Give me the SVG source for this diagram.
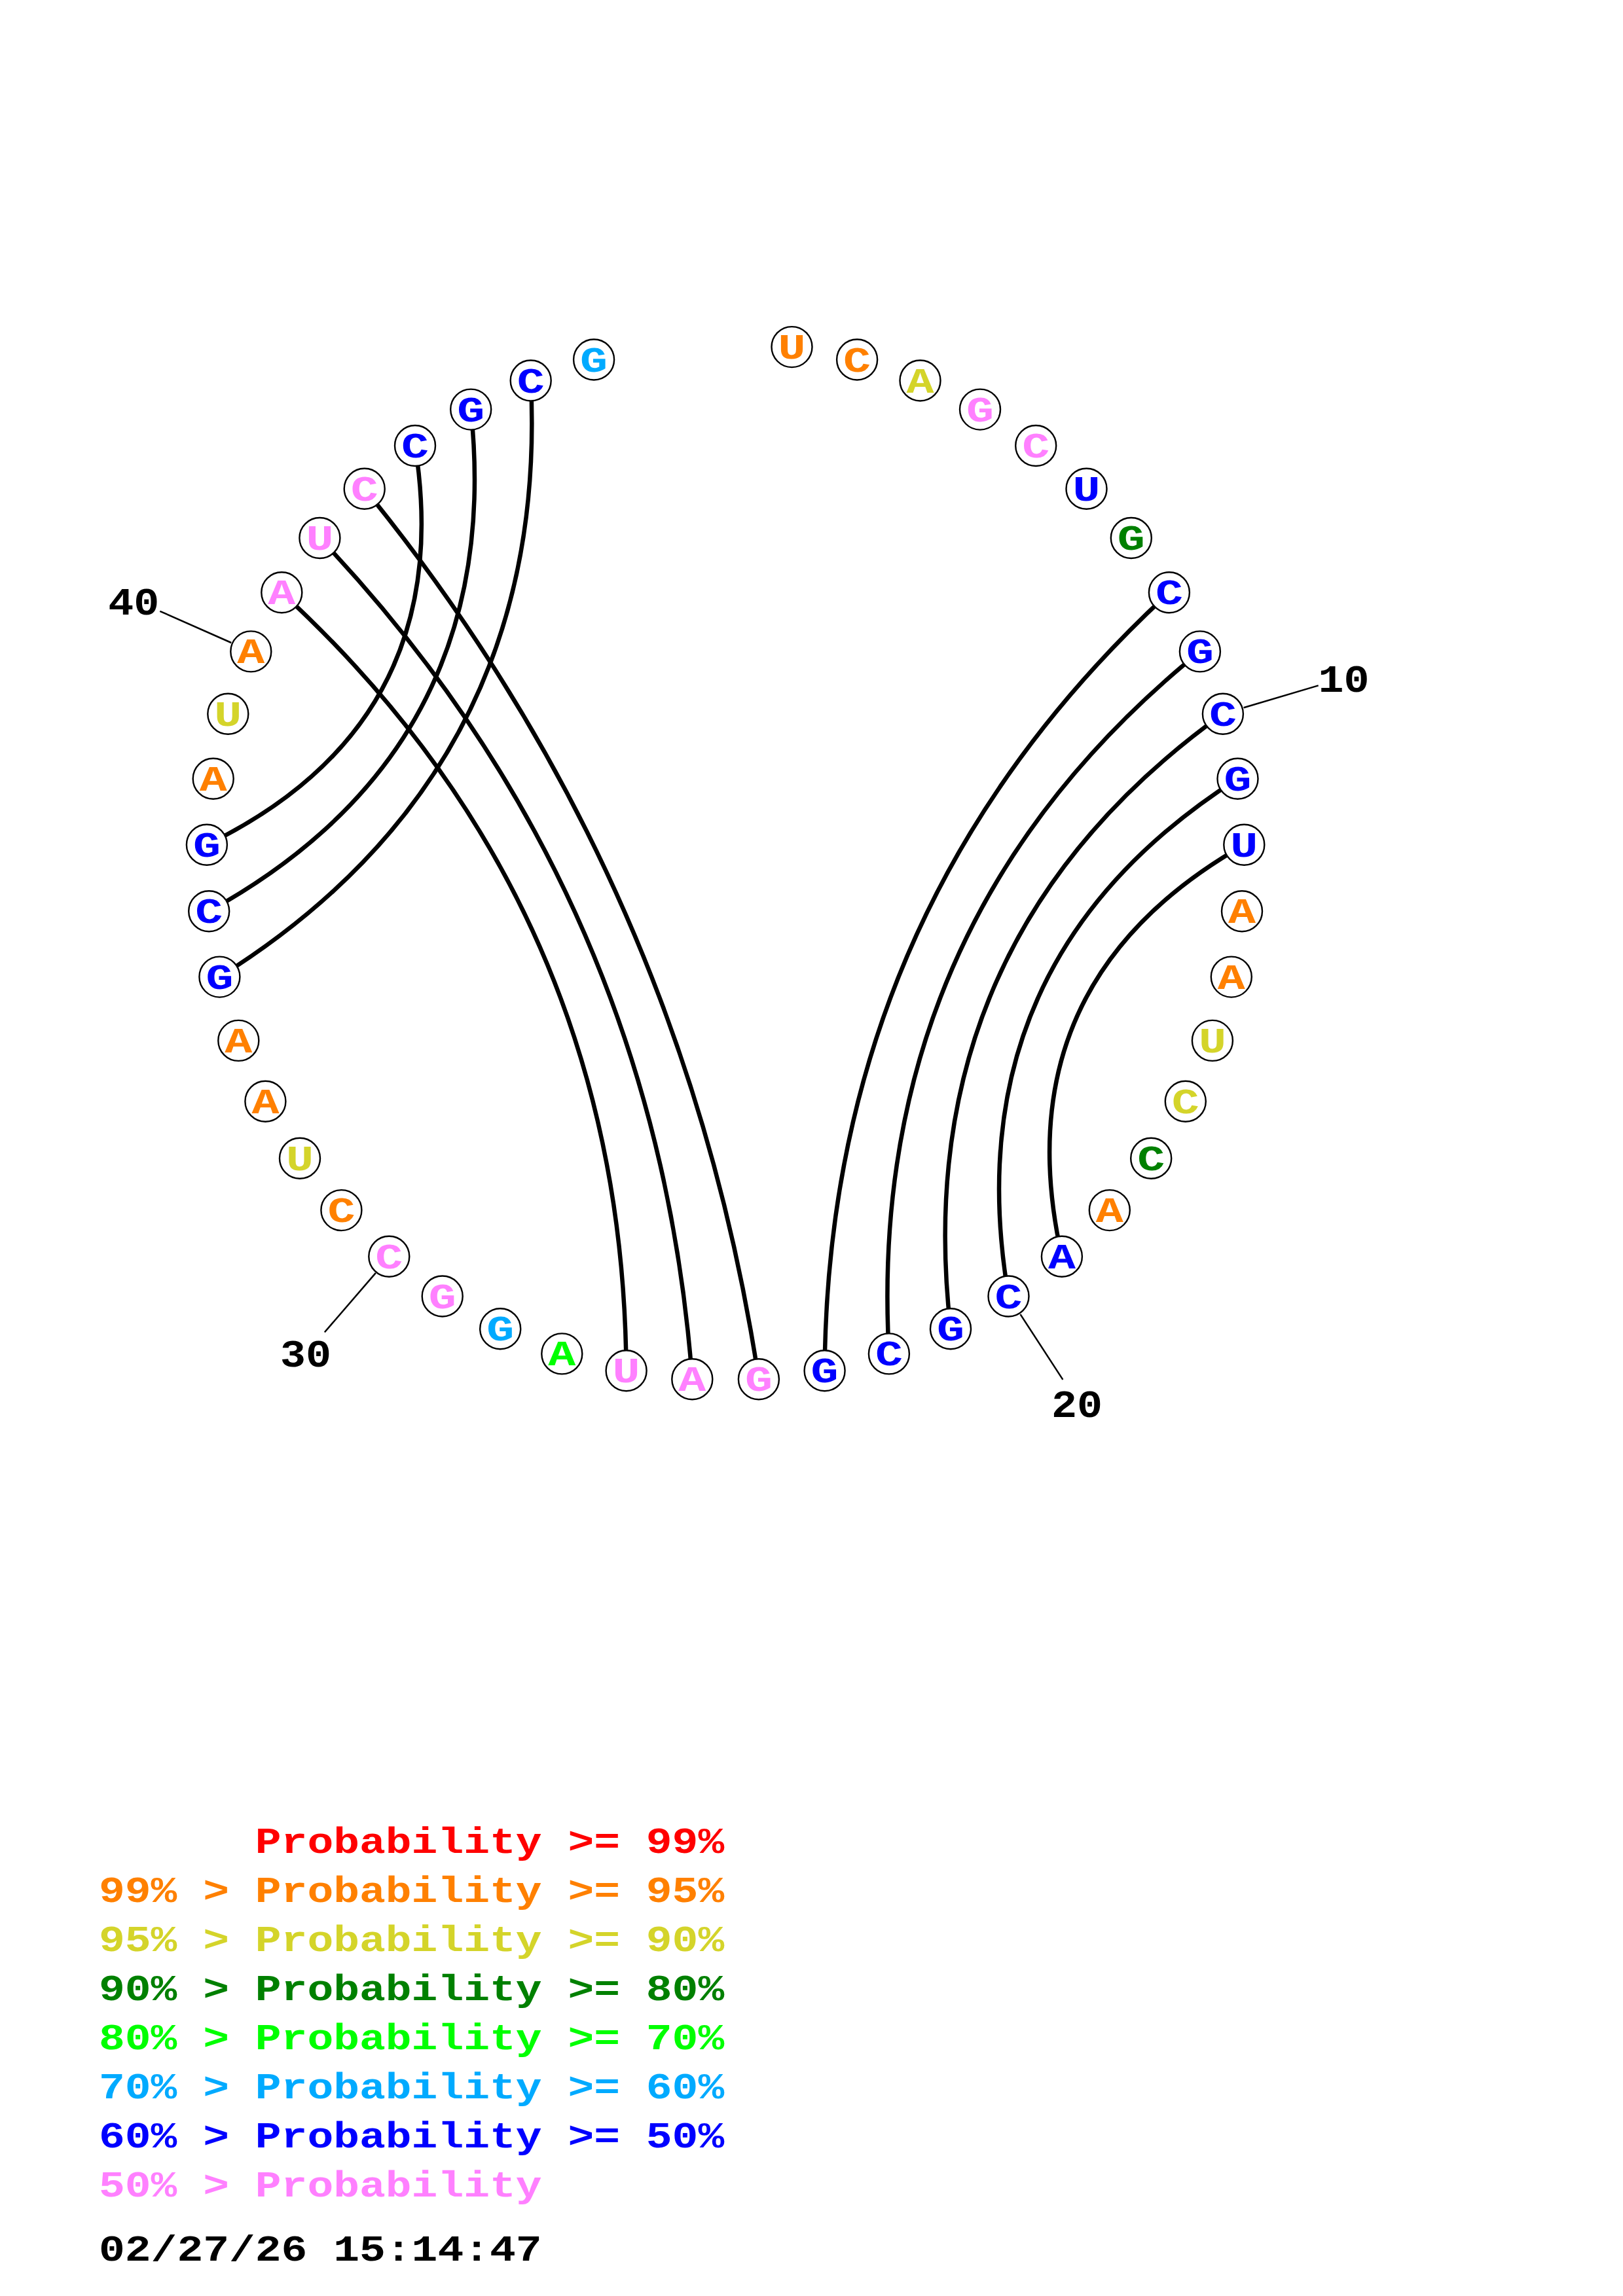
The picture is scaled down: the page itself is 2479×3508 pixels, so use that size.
<svg xmlns="http://www.w3.org/2000/svg" width="2479" height="3508" viewBox="0 0 2479 3508">
<style>
.bg{fill:#fff}
.nc{fill:#fff;stroke:#000;stroke-width:2.4}
.nt{font-family:"Liberation Mono","DejaVu Sans Mono",monospace;font-weight:bold;font-size:53px;text-anchor:middle}
.arc{fill:none;stroke:#000;stroke-width:6.5;stroke-linecap:round}
.tick{stroke:#000;stroke-width:2.5}
.lbl{font-family:"Liberation Mono","DejaVu Sans Mono",monospace;font-weight:bold;font-size:60px;text-anchor:middle;fill:#000}
.leg{font-family:"Liberation Mono","DejaVu Sans Mono",monospace;font-weight:bold;font-size:55px}
.or{fill:#FF8000}.ye{fill:#D4D42A}.pk{fill:#FF80FF}.bl{fill:#0000FF}.dg{fill:#008000}.gr{fill:#00FF00}.lb{fill:#00AAFF}.rd{fill:#FF0000}.bk{fill:#000}
</style>
<rect class="bg" x="0" y="0" width="2479" height="3508"/>
<g id="connectors">
<path class="arc" d="M1785.9,905.3 Q1264.3,1385.3 1259.6,2094.2"/>
<path class="arc" d="M1832.9,995.4 Q1321.0,1410.4 1357.9,2068.4"/>
<path class="arc" d="M1867.9,1090.7 Q1384.1,1438.4 1452.0,2030.3"/>
<path class="arc" d="M1890.5,1189.7 Q1453.3,1469.0 1540.5,1980.5"/>
<path class="arc" d="M1900.3,1290.8 Q1528.3,1502.2 1621.9,1919.7"/>
<path class="arc" d="M1158.9,2107.2 Q1043.6,1344.7 556.7,746.8"/>
<path class="arc" d="M1057.3,2107.2 Q1001.7,1363.3 488.4,822.0"/>
<path class="arc" d="M956.6,2094.2 Q951.9,1385.3 430.3,905.3"/>
<path class="arc" d="M335.4,1492.6 Q840.5,1176.6 810.7,581.5"/>
<path class="arc" d="M319.2,1392.3 Q773.4,1141.6 719.2,625.6"/>
<path class="arc" d="M315.9,1290.8 Q700.7,1103.7 634.0,681.0"/>
<line class="tick" x1="1899.6" y1="1081.3" x2="2013.7" y2="1047.4"/>
<line class="tick" x1="1558.5" y1="2008.1" x2="1623.4" y2="2107.9"/>
<line class="tick" x1="573.9" y1="1944.9" x2="495.8" y2="2035.5"/>
<line class="tick" x1="353.2" y1="982.0" x2="244.3" y2="933.8"/>
</g>
<g id="n1"><circle class="nc" cx="1209.5" cy="530.1" r="31"/><text class="nt or" x="1209.5" y="548.1" textLength="42" lengthAdjust="spacingAndGlyphs">U</text></g>
<g id="n2"><circle class="nc" cx="1309.1" cy="549.5" r="31"/><text class="nt or" x="1309.1" y="567.5" textLength="42" lengthAdjust="spacingAndGlyphs">C</text></g>
<g id="n3"><circle class="nc" cx="1405.5" cy="581.5" r="31"/><text class="nt ye" x="1405.5" y="599.5" textLength="42" lengthAdjust="spacingAndGlyphs">A</text></g>
<g id="n4"><circle class="nc" cx="1497.0" cy="625.6" r="31"/><text class="nt pk" x="1497.0" y="643.6" textLength="42" lengthAdjust="spacingAndGlyphs">G</text></g>
<g id="n5"><circle class="nc" cx="1582.2" cy="681.0" r="31"/><text class="nt pk" x="1582.2" y="699.0" textLength="42" lengthAdjust="spacingAndGlyphs">C</text></g>
<g id="n6"><circle class="nc" cx="1659.5" cy="746.8" r="31"/><text class="nt bl" x="1659.5" y="764.8" textLength="42" lengthAdjust="spacingAndGlyphs">U</text></g>
<g id="n7"><circle class="nc" cx="1727.8" cy="822.0" r="31"/><text class="nt dg" x="1727.8" y="840.0" textLength="42" lengthAdjust="spacingAndGlyphs">G</text></g>
<g id="n8"><circle class="nc" cx="1785.9" cy="905.3" r="31"/><text class="nt bl" x="1785.9" y="923.3" textLength="42" lengthAdjust="spacingAndGlyphs">C</text></g>
<g id="n9"><circle class="nc" cx="1832.9" cy="995.4" r="31"/><text class="nt bl" x="1832.9" y="1013.4" textLength="42" lengthAdjust="spacingAndGlyphs">G</text></g>
<g id="n10"><circle class="nc" cx="1867.9" cy="1090.7" r="31"/><text class="nt bl" x="1867.9" y="1108.7" textLength="42" lengthAdjust="spacingAndGlyphs">C</text></g>
<g id="n11"><circle class="nc" cx="1890.5" cy="1189.7" r="31"/><text class="nt bl" x="1890.5" y="1207.7" textLength="42" lengthAdjust="spacingAndGlyphs">G</text></g>
<g id="n12"><circle class="nc" cx="1900.3" cy="1290.8" r="31"/><text class="nt bl" x="1900.3" y="1308.8" textLength="42" lengthAdjust="spacingAndGlyphs">U</text></g>
<g id="n13"><circle class="nc" cx="1897.0" cy="1392.3" r="31"/><text class="nt or" x="1897.0" y="1410.3" textLength="42" lengthAdjust="spacingAndGlyphs">A</text></g>
<g id="n14"><circle class="nc" cx="1880.8" cy="1492.6" r="31"/><text class="nt or" x="1880.8" y="1510.6" textLength="42" lengthAdjust="spacingAndGlyphs">A</text></g>
<g id="n15"><circle class="nc" cx="1851.9" cy="1589.9" r="31"/><text class="nt ye" x="1851.9" y="1607.9" textLength="42" lengthAdjust="spacingAndGlyphs">U</text></g>
<g id="n16"><circle class="nc" cx="1810.8" cy="1682.8" r="31"/><text class="nt ye" x="1810.8" y="1700.8" textLength="42" lengthAdjust="spacingAndGlyphs">C</text></g>
<g id="n17"><circle class="nc" cx="1758.2" cy="1769.7" r="31"/><text class="nt dg" x="1758.2" y="1787.7" textLength="42" lengthAdjust="spacingAndGlyphs">C</text></g>
<g id="n18"><circle class="nc" cx="1694.8" cy="1849.1" r="31"/><text class="nt or" x="1694.8" y="1867.1" textLength="42" lengthAdjust="spacingAndGlyphs">A</text></g>
<g id="n19"><circle class="nc" cx="1621.9" cy="1919.7" r="31"/><text class="nt bl" x="1621.9" y="1937.7" textLength="42" lengthAdjust="spacingAndGlyphs">A</text></g>
<g id="n20"><circle class="nc" cx="1540.5" cy="1980.5" r="31"/><text class="nt bl" x="1540.5" y="1998.5" textLength="42" lengthAdjust="spacingAndGlyphs">C</text></g>
<g id="n21"><circle class="nc" cx="1452.0" cy="2030.3" r="31"/><text class="nt bl" x="1452.0" y="2048.3" textLength="42" lengthAdjust="spacingAndGlyphs">G</text></g>
<g id="n22"><circle class="nc" cx="1357.9" cy="2068.4" r="31"/><text class="nt bl" x="1357.9" y="2086.4" textLength="42" lengthAdjust="spacingAndGlyphs">C</text></g>
<g id="n23"><circle class="nc" cx="1259.6" cy="2094.2" r="31"/><text class="nt bl" x="1259.6" y="2112.2" textLength="42" lengthAdjust="spacingAndGlyphs">G</text></g>
<g id="n24"><circle class="nc" cx="1158.9" cy="2107.2" r="31"/><text class="nt pk" x="1158.9" y="2125.2" textLength="42" lengthAdjust="spacingAndGlyphs">G</text></g>
<g id="n25"><circle class="nc" cx="1057.3" cy="2107.2" r="31"/><text class="nt pk" x="1057.3" y="2125.2" textLength="42" lengthAdjust="spacingAndGlyphs">A</text></g>
<g id="n26"><circle class="nc" cx="956.6" cy="2094.2" r="31"/><text class="nt pk" x="956.6" y="2112.2" textLength="42" lengthAdjust="spacingAndGlyphs">U</text></g>
<g id="n27"><circle class="nc" cx="858.3" cy="2068.4" r="31"/><text class="nt gr" x="858.3" y="2086.4" textLength="42" lengthAdjust="spacingAndGlyphs">A</text></g>
<g id="n28"><circle class="nc" cx="764.2" cy="2030.3" r="31"/><text class="nt lb" x="764.2" y="2048.3" textLength="42" lengthAdjust="spacingAndGlyphs">G</text></g>
<g id="n29"><circle class="nc" cx="675.7" cy="1980.5" r="31"/><text class="nt pk" x="675.7" y="1998.5" textLength="42" lengthAdjust="spacingAndGlyphs">G</text></g>
<g id="n30"><circle class="nc" cx="594.3" cy="1919.7" r="31"/><text class="nt pk" x="594.3" y="1937.7" textLength="42" lengthAdjust="spacingAndGlyphs">C</text></g>
<g id="n31"><circle class="nc" cx="521.4" cy="1849.1" r="31"/><text class="nt or" x="521.4" y="1867.1" textLength="42" lengthAdjust="spacingAndGlyphs">C</text></g>
<g id="n32"><circle class="nc" cx="458.0" cy="1769.7" r="31"/><text class="nt ye" x="458.0" y="1787.7" textLength="42" lengthAdjust="spacingAndGlyphs">U</text></g>
<g id="n33"><circle class="nc" cx="405.4" cy="1682.8" r="31"/><text class="nt or" x="405.4" y="1700.8" textLength="42" lengthAdjust="spacingAndGlyphs">A</text></g>
<g id="n34"><circle class="nc" cx="364.3" cy="1589.9" r="31"/><text class="nt or" x="364.3" y="1607.9" textLength="42" lengthAdjust="spacingAndGlyphs">A</text></g>
<g id="n35"><circle class="nc" cx="335.4" cy="1492.6" r="31"/><text class="nt bl" x="335.4" y="1510.6" textLength="42" lengthAdjust="spacingAndGlyphs">G</text></g>
<g id="n36"><circle class="nc" cx="319.2" cy="1392.3" r="31"/><text class="nt bl" x="319.2" y="1410.3" textLength="42" lengthAdjust="spacingAndGlyphs">C</text></g>
<g id="n37"><circle class="nc" cx="315.9" cy="1290.8" r="31"/><text class="nt bl" x="315.9" y="1308.8" textLength="42" lengthAdjust="spacingAndGlyphs">G</text></g>
<g id="n38"><circle class="nc" cx="325.7" cy="1189.7" r="31"/><text class="nt or" x="325.7" y="1207.7" textLength="42" lengthAdjust="spacingAndGlyphs">A</text></g>
<g id="n39"><circle class="nc" cx="348.3" cy="1090.7" r="31"/><text class="nt ye" x="348.3" y="1108.7" textLength="42" lengthAdjust="spacingAndGlyphs">U</text></g>
<g id="n40"><circle class="nc" cx="383.3" cy="995.4" r="31"/><text class="nt or" x="383.3" y="1013.4" textLength="42" lengthAdjust="spacingAndGlyphs">A</text></g>
<g id="n41"><circle class="nc" cx="430.3" cy="905.3" r="31"/><text class="nt pk" x="430.3" y="923.3" textLength="42" lengthAdjust="spacingAndGlyphs">A</text></g>
<g id="n42"><circle class="nc" cx="488.4" cy="822.0" r="31"/><text class="nt pk" x="488.4" y="840.0" textLength="42" lengthAdjust="spacingAndGlyphs">U</text></g>
<g id="n43"><circle class="nc" cx="556.7" cy="746.8" r="31"/><text class="nt pk" x="556.7" y="764.8" textLength="42" lengthAdjust="spacingAndGlyphs">C</text></g>
<g id="n44"><circle class="nc" cx="634.0" cy="681.0" r="31"/><text class="nt bl" x="634.0" y="699.0" textLength="42" lengthAdjust="spacingAndGlyphs">C</text></g>
<g id="n45"><circle class="nc" cx="719.2" cy="625.6" r="31"/><text class="nt bl" x="719.2" y="643.6" textLength="42" lengthAdjust="spacingAndGlyphs">G</text></g>
<g id="n46"><circle class="nc" cx="810.7" cy="581.5" r="31"/><text class="nt bl" x="810.7" y="599.5" textLength="42" lengthAdjust="spacingAndGlyphs">C</text></g>
<g id="n47"><circle class="nc" cx="907.1" cy="549.5" r="31"/><text class="nt lb" x="907.1" y="567.5" textLength="42" lengthAdjust="spacingAndGlyphs">G</text></g>
<g id="labels">
<text class="lbl" x="2052.5" y="1057" textLength="78" lengthAdjust="spacingAndGlyphs">10</text>
<text class="lbl" x="1645" y="2165" textLength="78" lengthAdjust="spacingAndGlyphs">20</text>
<text class="lbl" x="467.1" y="2088" textLength="78" lengthAdjust="spacingAndGlyphs">30</text>
<text class="lbl" x="204.3" y="939" textLength="78" lengthAdjust="spacingAndGlyphs">40</text>
</g>
<g id="legend">
<text class="leg rd" x="389.8" y="2831" textLength="716.4" lengthAdjust="spacingAndGlyphs">Probability &gt;= 99%</text>
<text class="leg or" x="151" y="2906" textLength="955.2" lengthAdjust="spacingAndGlyphs">99% &gt; Probability &gt;= 95%</text>
<text class="leg ye" x="151" y="2981" textLength="955.2" lengthAdjust="spacingAndGlyphs">95% &gt; Probability &gt;= 90%</text>
<text class="leg dg" x="151" y="3056" textLength="955.2" lengthAdjust="spacingAndGlyphs">90% &gt; Probability &gt;= 80%</text>
<text class="leg gr" x="151" y="3131" textLength="955.2" lengthAdjust="spacingAndGlyphs">80% &gt; Probability &gt;= 70%</text>
<text class="leg lb" x="151" y="3206" textLength="955.2" lengthAdjust="spacingAndGlyphs">70% &gt; Probability &gt;= 60%</text>
<text class="leg bl" x="151" y="3281" textLength="955.2" lengthAdjust="spacingAndGlyphs">60% &gt; Probability &gt;= 50%</text>
<text class="leg pk" x="151" y="3356" textLength="676.6" lengthAdjust="spacingAndGlyphs">50% &gt; Probability</text>
<text class="leg bk" x="151" y="3454" textLength="676.6" lengthAdjust="spacingAndGlyphs">02/27/26 15:14:47</text>
</g>
</svg>
